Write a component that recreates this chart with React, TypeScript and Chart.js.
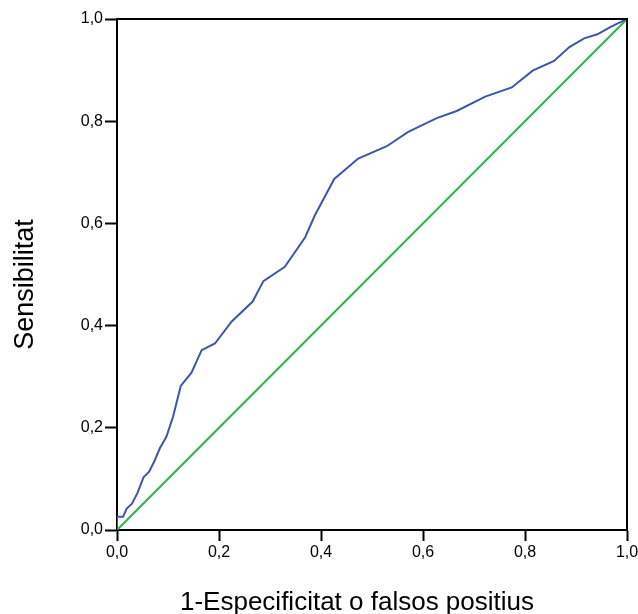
import React, { useEffect, useRef } from "react";
import { Chart, registerables } from "chart.js";

Chart.register(...registerables);

// ROC curve points (1-specificity, sensitivity)
const rocX = [0, 0, 0.012, 0.019, 0.029, 0.040, 0.052, 0.063, 0.073, 0.084, 0.097, 0.110, 0.118, 0.125, 0.146, 0.166, 0.192, 0.225, 0.266, 0.287, 0.329, 0.369, 0.388, 0.426, 0.473, 0.529, 0.571, 0.627, 0.666, 0.722, 0.774, 0.815, 0.857, 0.887, 0.916, 0.942, 0.967, 1.0];
const rocY = [0, 0.026, 0.026, 0.042, 0.051, 0.072, 0.103, 0.114, 0.134, 0.160, 0.183, 0.222, 0.254, 0.282, 0.308, 0.352, 0.365, 0.408, 0.447, 0.487, 0.515, 0.573, 0.616, 0.687, 0.727, 0.751, 0.779, 0.806, 0.820, 0.848, 0.866, 0.899, 0.918, 0.945, 0.962, 0.970, 0.984, 1.0];
const refX = [0, 1];
const refY = [0, 1];
const tickValues = [0, 0.2, 0.4, 0.6, 0.8, 1.0];
const xTitle = "1-Especificitat o falsos positius";
const yTitle = "Sensibilitat";

const FONT = "Arial, 'Liberation Sans', sans-serif";

const framePlugin = {
  id: "frame",
  afterDatasetsDraw(chart: any) {
    const { ctx, chartArea } = chart;
    ctx.save();
    ctx.strokeStyle = "#000";
    ctx.lineWidth = 2;
    ctx.beginPath();
    ctx.moveTo(chartArea.left, chartArea.top);
    ctx.lineTo(chartArea.right, chartArea.top);
    ctx.lineTo(chartArea.right, chartArea.bottom);
    ctx.stroke();
    ctx.restore();
  },
};

const titlesPlugin = {
  id: "titles",
  afterDraw(chart: any) {
    const { ctx, chartArea } = chart;
    ctx.save();
    ctx.fillStyle = "#000";
    ctx.font = `26px ${FONT}`;
    ctx.textAlign = "center";
    ctx.textBaseline = "alphabetic";
    ctx.fillText(xTitle, chartArea.left + 240, chart.height - 4);
    ctx.translate(33, (chartArea.top + chartArea.bottom) / 2 + 10);
    ctx.rotate(-Math.PI / 2);
    ctx.font = `27px ${FONT}`;
    ctx.fillText(yTitle, 0, 0);
    ctx.restore();
  },
};

export default function App() {
  const ref = useRef<HTMLCanvasElement>(null);
  useEffect(() => {
    if (!ref.current) return;
    const fmt = (v: any) => Number(v).toFixed(1).replace(".", ",");
    const axisCommon = {
      type: "linear" as const,
      min: 0,
      max: 1,
      border: { display: true, color: "#000", width: 2 },
      grid: {
        drawOnChartArea: false,
        drawTicks: true,
        tickLength: 12,
        tickColor: "#000",
        tickWidth: 2,
      },
      afterBuildTicks: (scale: any) => {
        scale.ticks = tickValues.map((v) => ({ value: v }));
      },
      ticks: {
        color: "#000",
        font: { family: FONT, size: 16 },
        callback: fmt,
        maxRotation: 0,
        autoSkip: false,
      },
    };
    const chart = new Chart(ref.current, {
      type: "scatter",
      data: {
        datasets: [
          {
            data: rocX.map((x, i) => ({ x, y: rocY[i] })),
            showLine: true,
            borderColor: "#3F55A8",
            borderWidth: 2,
            pointRadius: 0,
            tension: 0,
          },
          {
            data: refX.map((x, i) => ({ x, y: refY[i] })),
            showLine: true,
            borderColor: "#2DB34A",
            borderWidth: 2,
            pointRadius: 0,
          },
        ],
      },
      options: {
        animation: false,
        responsive: true,
        maintainAspectRatio: false,
        layout: { padding: { top: 19, right: 11, left: 0, bottom: 0 } },
        plugins: { legend: { display: false }, tooltip: { enabled: false } },
        scales: {
          x: {
            ...axisCommon,
            position: "bottom",
            grid: { ...axisCommon.grid, tickLength: 11 },
            ticks: { ...axisCommon.ticks, padding: 2 },
            afterFit: (scale: any) => {
              scale.height = 84;
              scale.paddingLeft = 0;
              scale.paddingRight = 0;
            },
          },
          y: {
            ...axisCommon,
            position: "left",
            ticks: { ...axisCommon.ticks, padding: 2 },
            afterFit: (scale: any) => {
              scale.width = 117;
              scale.paddingTop = 0;
              scale.paddingBottom = 0;
            },
          },
        },
      },
      plugins: [framePlugin, titlesPlugin],
    });
    return () => chart.destroy();
  }, []);
  return (
    <div style={{ position: "fixed", left: 0, top: 0, width: 638, height: 614, background: "#fff" }}>
      <canvas ref={ref} />
    </div>
  );
}
